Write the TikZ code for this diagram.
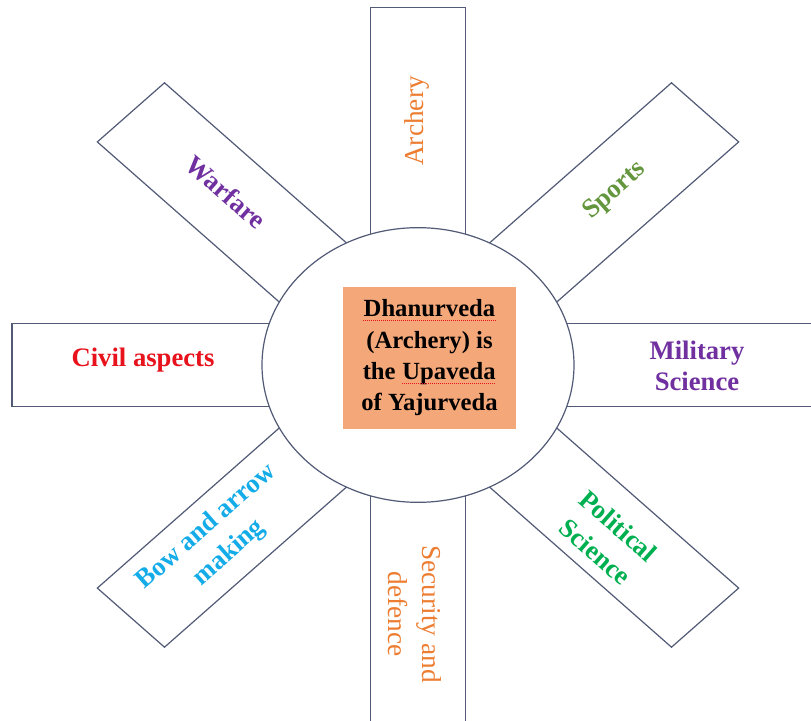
\documentclass[tikz,border=0pt]{standalone}
\usepackage{fontspec}
\setmainfont{Liberation Serif}
\definecolor{edge}{RGB}{82,90,118}
\definecolor{cfill}{RGB}{244,168,122}
\definecolor{corange}{RGB}{237,125,49}
\definecolor{cpurple}{RGB}{112,48,160}
\definecolor{colive}{RGB}{100,150,62}
\definecolor{cred}{RGB}{232,18,28}
\definecolor{cblue}{RGB}{20,172,232}
\definecolor{cgreen}{RGB}{0,176,80}
\newcommand\spellu[1]{\tikz[baseline=(w.base)]{\node[inner sep=0pt,rotate=0](w){#1};\draw[cred, densely dotted, line width=0.5pt]([yshift=-2.6pt]w.base west)--([yshift=-2.6pt]w.base east);}}
\tikzset{
  spoke/.style={draw=edge, line width=0.9pt, fill=white, line join=miter},
  lbl/.style={align=center, inner sep=0pt, font=\fontsize{20}{26}\selectfont\bfseries},
  lblreg/.style={align=center, inner sep=0pt, font=\fontsize{20.5}{26}\selectfont},
}
\begin{document}
\begin{tikzpicture}[x=0.75pt,y=-0.75pt]
\useasboundingbox (0,0) rectangle (811,721);
\clip (0,0) rectangle (811,721);
\fill[white] (0,0) rectangle (811,721);
% spokes drawn in an unsquished frame, then squished vertically
\begin{scope}[shift={(418,365)}, yscale=0.88]
  \foreach \a in {90,135,45,180,0,225,315,270} {
    \draw[spoke, rotate=\a] (100,-47.5) -- (406,-47.5) -- (406,47.5) -- (100,47.5) -- cycle;
  }
\end{scope}
\draw[spoke] (418,365) ellipse [x radius=117pt, y radius=103pt];
\node[fill=cfill, minimum width=130pt, minimum height=106.5pt, inner sep=0pt] (core) at (429.5,358) {};
\node[align=center, inner sep=0pt, font=\fontsize{18.5}{23.5}\selectfont\bfseries] (coretext) at (core.center)
  {\spellu{Dhanurveda}\\(Archery) is\\the \spellu{Upaveda}\\of Yajurveda};
% labels
\node[lblreg, text=corange, rotate=90] (archery) at (417,121) {Archery};
\node[lbl, text=cpurple, rotate=-41.35] (warfare) at (226,192) {Warfare};
\node[lbl, text=colive, rotate=41.35] (sports) at (615,191) {Sports};
\node[lbl, text=cred] (civil) at (143,360) {Civil aspects};
\node[lbl, text=cpurple, font=\fontsize{20}{23}\selectfont\bfseries] (military) at (697,366) {Military\\Science};
\node[lbl, text=cblue, rotate=41.35] (bow) at (218,540) {Bow and arrow\\making};
\node[lbl, text=cgreen, rotate=-41.35] (political) at (607,539) {Political\\Science};
\node[lblreg, text=corange, rotate=-90] (security) at (415,614) {Security and\\defence};
\end{tikzpicture}
\end{document}
